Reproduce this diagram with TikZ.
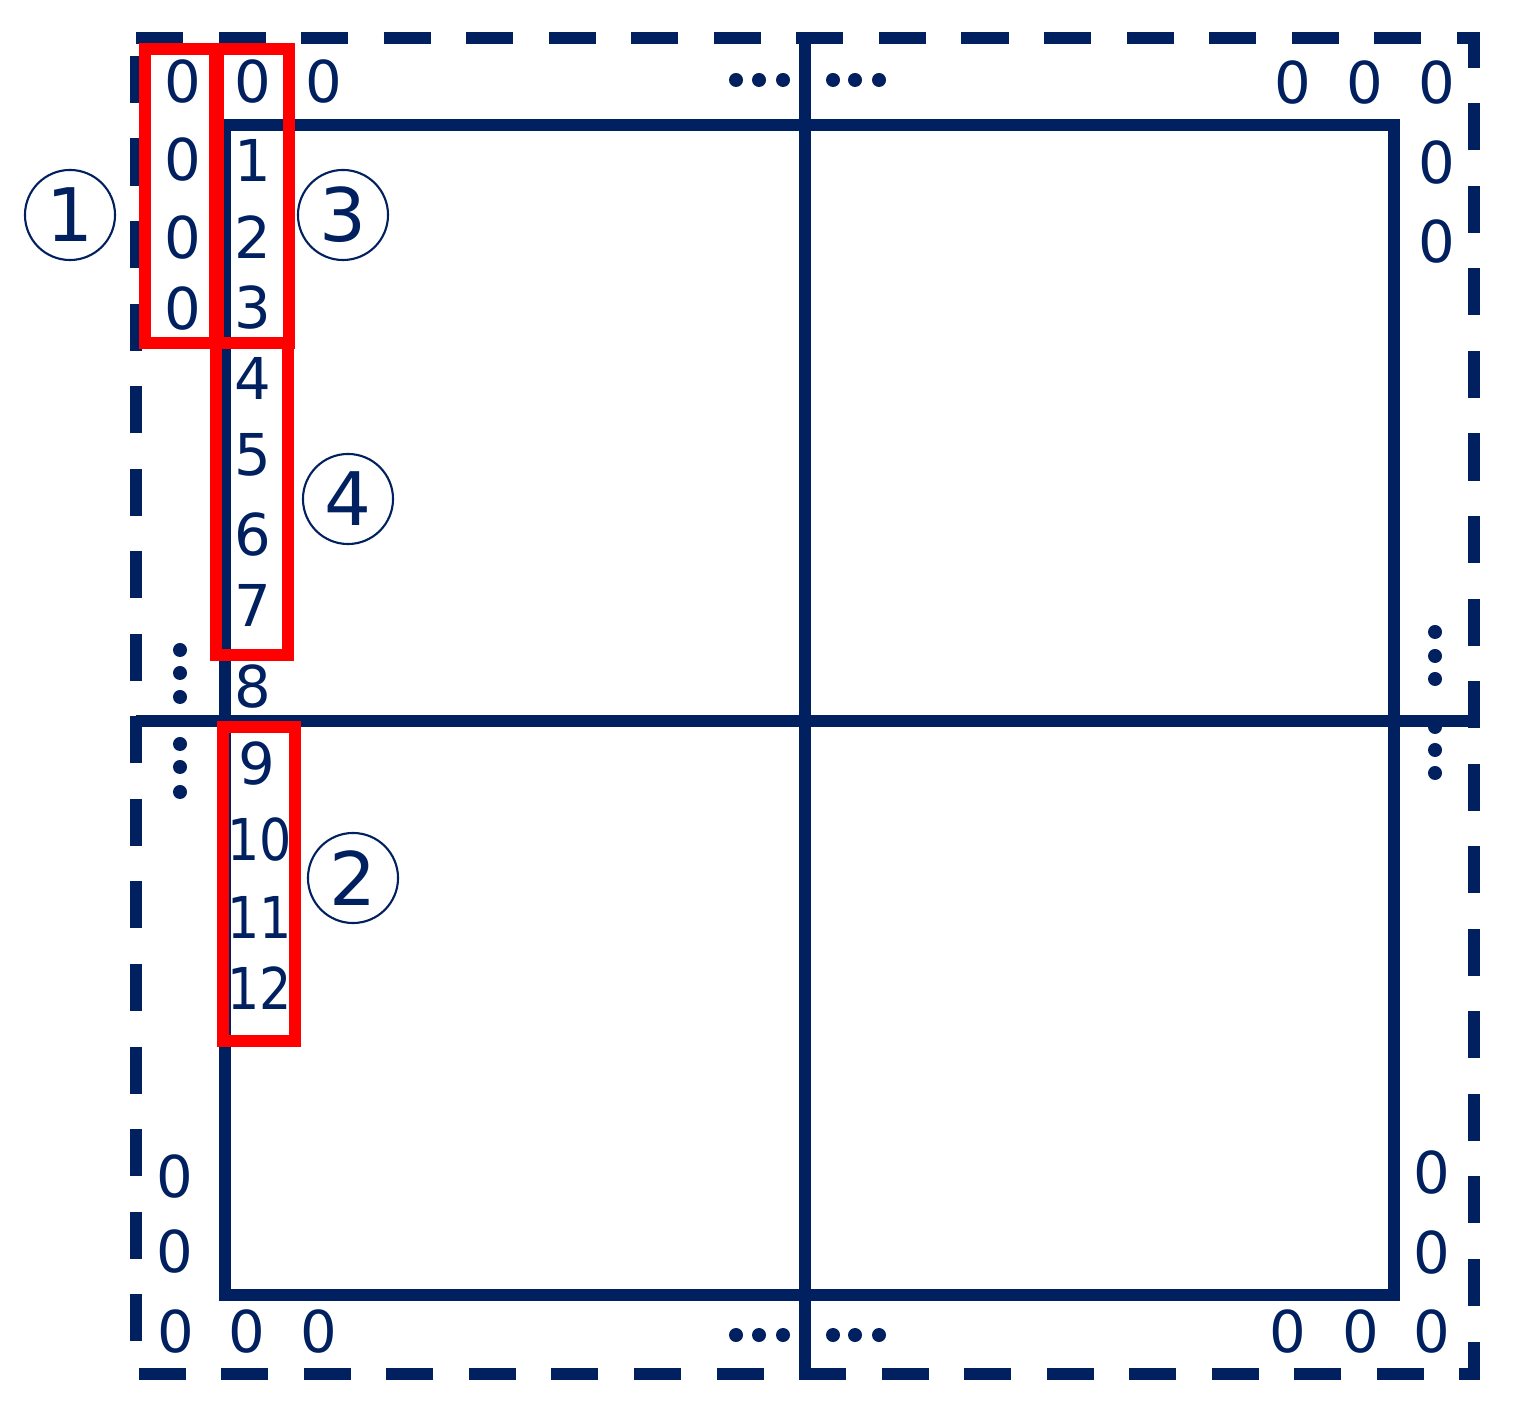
\documentclass[tikz,border=0pt]{standalone}
\usepackage{fontspec}
\setmainfont{DejaVu Sans}
\definecolor{navy}{HTML}{002060}
\definecolor{redbox}{HTML}{FF0000}
\newfontfamily\numfamily{DejaVu Sans}
\begin{document}
\begin{tikzpicture}[x=0.01cm,y=-0.01cm,
  navyline/.style={draw=navy, line width=0.115cm},
  dashline/.style={draw=navy, line width=0.115cm, dash pattern=on 0.47cm off 0.355cm},
  rbox/.style={draw=redbox, line width=0.12cm},
  num/.style={text=navy, font=\numfamily\fontsize{16.4}{18}\selectfont, inner sep=0pt},
  circnum/.style={circle, draw=navy, line width=0.6pt, minimum size=0.9cm, inner sep=0pt, text=navy, font=\numfamily\fontsize{21}{24}\selectfont},
  dotnode/.style={circle, fill=navy, minimum size=0.14cm, inner sep=0pt}]
\useasboundingbox (0,0) rectangle (1515,1410);
% dots
\foreach \x/\n in {736/a,759/b,783/c,833/d,855/e,879/f}{
  \node[dotnode] (dt\n) at (\x,80) {};
  \node[dotnode] (db\n) at (\x,1335) {};
}
\foreach \y/\n in {650/a,673/b,697/c,744/d,767/e,792/f}{
  \node[dotnode] (dl\n) at (180,\y) {};
}
\foreach \y/\n in {632/a,656/b,679/c,727/d,750/e,773/f}{
  \node[dotnode] (dr\n) at (1435,\y) {};
}
% lines
\draw[dashline] (136,38) -- (1474,38) -- (1474,1374) -- (136,1374) -- cycle;
\draw[navyline] (225,125) rectangle (1394,1295);
\draw[navyline] (136,721) -- (1474,721);
\draw[navyline] (805,38) -- (805,1374);
% red boxes
\draw[rbox] (145,49) rectangle (215,343);
\draw[rbox] (218,49) rectangle (289,343);
\draw[rbox] (216,343) rectangle (288,655);
\draw[rbox] (223,727) rectangle (295,1041);
% column of zeros (box 1)
\node[num] (z1) at (183,82) {0};
\node[num] (z2) at (183,160) {0};
\node[num] (z3) at (183,238) {0};
\node[num] (z4) at (183,309) {0};
% column of numbers
\node[num] (n0) at (253,82) {0};
\node[num] (n1) at (253,160) {1};
\node[num] (n2) at (253,237) {2};
\node[num] (n3) at (253,308) {3};
\node[num] (n4) at (253,378) {4};
\node[num] (n5) at (253,455) {5};
\node[num] (n6) at (253,535) {6};
\node[num] (n7) at (253,605) {7};
\node[num] (n8) at (253,687) {8};
\node[num] (n9) at (257,764) {9};
\node[num] (n10) at (260,840) {\scalebox{0.88}[1]{10}};
\node[num] (n11) at (260,917) {\scalebox{0.88}[1]{11}};
\node[num] (n12) at (260,988) {\scalebox{0.88}[1]{12}};
\node[num] (t3) at (324,82) {0};
% top right
\node[num] (tr1) at (1293,83) {0};
\node[num] (tr2) at (1365,83) {0};
\node[num] (tr3) at (1437,83) {0};
\node[num] (tr4) at (1437,163) {0};
\node[num] (tr5) at (1437,242) {0};
% bottom left
\node[num] (bl1) at (175,1177) {0};
\node[num] (bl2) at (175,1252) {0};
\node[num] (bl3) at (176,1332) {0};
\node[num] (bl4) at (247,1332) {0};
\node[num] (bl5) at (319,1332) {0};
% bottom right
\node[num] (br1) at (1432,1173) {0};
\node[num] (br2) at (1432,1253) {0};
\node[num] (br3) at (1288,1332) {0};
\node[num] (br4) at (1361,1332) {0};
\node[num] (br5) at (1432,1332) {0};
% circled labels
\node[circnum] (c1) at (70,215) {1};
\node[circnum] (c3) at (343,215) {3};
\node[circnum] (c4) at (348,499) {4};
\node[circnum] (c2) at (353,878) {2};
\end{tikzpicture}
\end{document}
